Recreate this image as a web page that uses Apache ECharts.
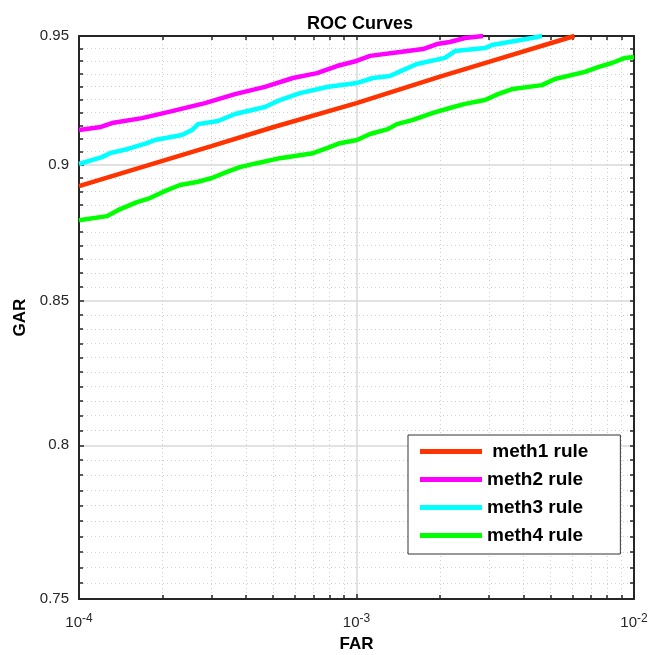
<!DOCTYPE html>
<html><head><meta charset="utf-8">
<script src="https://cdn.jsdelivr.net/npm/echarts@6/dist/echarts.min.js"></script>
<style>html,body{margin:0;padding:0;background:#fff}#c{width:661px;height:655px}</style>
</head><body><div id="c"></div>
<script>
const seriesNames = [' meth1 rule', 'meth2 rule', 'meth3 rule', 'meth4 rule'];
const colors = ['#ff3300', '#ff00ff', '#00ffff', '#00ff00'];

const far1 = [1e-4, 2e-4, 3e-4, 5e-4, 1e-3, 2e-3, 3e-3, 6.1e-3];
const gar1 = [0.892, 0.9015, 0.9071, 0.9143, 0.9236, 0.9339, 0.9397, 0.95];

const far2 = [1e-4, 1.2e-4, 1.315e-4, 1.687e-4, 2.164e-4, 2.845e-4, 3.65e-4, 4.68e-4, 5.9e-4, 7.21e-4, 8.5e-4, 1.0e-3, 1.119e-3, 1.435e-3, 1.736e-3, 1.95e-3, 2.17e-3, 2.46e-3, 2.86e-3];
const gar2 = [0.9132, 0.9144, 0.9159, 0.9178, 0.9205, 0.9236, 0.9271, 0.9299, 0.9334, 0.9353, 0.9381, 0.9401, 0.9421, 0.9436, 0.9448, 0.9468, 0.9476, 0.9492, 0.95];

const far3 = [1e-4, 1.21e-4, 1.293e-4, 1.501e-4, 1.758e-4, 1.878e-4, 2.35e-4, 2.554e-4, 2.685e-4, 3.17e-4, 3.65e-4, 4.68e-4, 5.3e-4, 6.26e-4, 7.83e-4, 1.0e-3, 1.147e-3, 1.32e-3, 1.471e-3, 1.652e-3, 2.084e-3, 2.265e-3, 2.905e-3, 3.078e-3, 4.29e-3, 4.66e-3];
const gar3 = [0.9003, 0.9029, 0.9044, 0.9060, 0.9082, 0.9094, 0.9113, 0.9132, 0.9155, 0.9167, 0.9194, 0.9221, 0.9248, 0.9275, 0.9299, 0.9314, 0.9334, 0.9342, 0.9365, 0.9389, 0.9413, 0.9440, 0.9452, 0.9464, 0.9492, 0.95];

const far4 = [1e-4, 1.262e-4, 1.382e-4, 1.618e-4, 1.803e-4, 2.007e-4, 2.312e-4, 2.662e-4, 3.015e-4, 3.415e-4, 3.8e-4, 4.38e-4, 5.3e-4, 6.97e-4, 7.83e-4, 8.72e-4, 1.004e-3, 1.119e-3, 1.298e-3, 1.399e-3, 1.598e-3, 1.887e-3, 2.17e-3, 2.46e-3, 2.905e-3, 3.236e-3, 3.66e-3, 4.66e-3, 5.19e-3, 6.66e-3, 7.42e-3, 8.33e-3, 9.28e-3, 1e-2];
const gar4 = [0.8793, 0.8808, 0.8830, 0.8860, 0.8875, 0.8898, 0.8924, 0.8935, 0.8950, 0.8973, 0.8991, 0.9006, 0.9025, 0.9044, 0.9063, 0.9082, 0.9094, 0.9117, 0.9136, 0.9155, 0.9171, 0.9198, 0.9217, 0.9233, 0.9248, 0.9271, 0.9291, 0.9306, 0.9330, 0.9358, 0.9377, 0.9393, 0.9413, 0.9417];

const xMajorTicks = [0.0001, 0.001, 0.01];
const xMinorTicks = [0.0002, 0.0003, 0.0004, 0.0005, 0.0006, 0.0007, 0.0008, 0.0009,
                     0.002, 0.003, 0.004, 0.005, 0.006, 0.007, 0.008, 0.009];
const yMajorTicks = [0.75, 0.8, 0.85, 0.9, 0.95];
const yMinorTicks = [0.755, 0.76, 0.765, 0.77, 0.775, 0.78, 0.785, 0.79, 0.795,
                     0.805, 0.81, 0.815, 0.82, 0.825, 0.83, 0.835, 0.84, 0.845,
                     0.855, 0.86, 0.865, 0.87, 0.875, 0.88, 0.885, 0.89, 0.895,
                     0.905, 0.91, 0.915, 0.92, 0.925, 0.93, 0.935, 0.94, 0.945];

const FONT = '"Liberation Sans", Arial, sans-serif';
const AXC = '#262626';
const MAJ = { color: '#d9d9d9', width: 1.5 };
const MIN = { color: '#cfcfcf', width: 1, type: [1, 3] };

const pairs = (x, y) => x.map((v, i) => [v, y[i]]);
const farAll = [far1, far2, far3, far4];
const garAll = [gar1, gar2, gar3, gar4];

const xBase = { type: 'log', logBase: 10, min: 1e-4, max: 1e-2, gridIndex: 0 };
const yBase = { type: 'log', logBase: 10, min: 0.75, max: 0.95, gridIndex: 0 };

const chart = echarts.init(document.getElementById('c'), null, { renderer: 'canvas' });
chart.setOption({
  animation: false,
  backgroundColor: '#fff',
  title: {
    text: 'ROC Curves', left: 355, top: 10, textAlign: 'center',
    textStyle: { fontFamily: FONT, fontSize: 18, fontWeight: 'bold', color: '#000' }
  },
  grid: { left: 79, right: 27, top: 36, bottom: 56, containLabel: false, outerBoundsMode: 'none' },
  legend: {
    orient: 'vertical', left: 408, top: 435, padding: [7, 32, 9, 12],
    itemWidth: 62, itemHeight: 5, itemGap: 9, icon: 'rect',
    borderColor: '#333', borderWidth: 1, backgroundColor: '#fff',
    textStyle: { fontFamily: FONT, fontSize: 19, fontWeight: 'bold', color: '#000' },
    data: seriesNames
  },
  xAxis: [
    Object.assign({}, xBase, {
      position: 'bottom',
      name: 'FAR', nameLocation: 'middle', nameGap: 37,
      nameTextStyle: { fontFamily: FONT, fontSize: 17, fontWeight: 'bold', color: '#000' },
      axisLine: { show: true, onZero: false, lineStyle: { color: AXC, width: 2 } },
      axisTick: { show: true, inside: true, length: 5, customValues: xMajorTicks, lineStyle: { color: AXC, width: 1.5 } },
      axisLabel: {
        customValues: xMajorTicks, margin: 14, color: AXC,
        formatter: v => '{b|10}{s|' + Math.round(Math.log10(v)) + '}',
        rich: {
          b: { fontFamily: FONT, fontSize: 15, color: AXC, lineHeight: 20 },
          s: { fontFamily: FONT, fontSize: 12, color: AXC, lineHeight: 12, verticalAlign: 'top' }
        }
      },
      splitLine: { show: true, lineStyle: MAJ }
    }),
    Object.assign({}, xBase, {
      position: 'bottom',
      axisLine: { show: false, onZero: false },
      axisTick: { show: true, inside: true, length: 4, customValues: xMinorTicks, lineStyle: { color: AXC, width: 1.5 } },
      axisLabel: { show: false },
      splitLine: { show: true, lineStyle: MIN }
    }),
    Object.assign({}, xBase, {
      position: 'top',
      axisLine: { show: true, onZero: false, lineStyle: { color: AXC, width: 2 } },
      axisTick: { show: true, inside: true, length: 4, customValues: xMajorTicks.concat(xMinorTicks), lineStyle: { color: AXC, width: 1.5 } },
      axisLabel: { show: false },
      splitLine: { show: false }
    })
  ],
  yAxis: [
    Object.assign({}, yBase, {
      position: 'left',
      name: 'GAR', nameLocation: 'middle', nameGap: 41, nameRotate: 90,
      nameTextStyle: { fontFamily: FONT, fontSize: 17, fontWeight: 'bold', color: '#000' },
      axisLine: { show: true, onZero: false, lineStyle: { color: AXC, width: 2 } },
      axisTick: { show: true, inside: true, length: 5, customValues: yMajorTicks, lineStyle: { color: AXC, width: 1.5 } },
      axisLabel: {
        customValues: yMajorTicks, margin: 10, color: AXC, fontFamily: FONT, fontSize: 15,
        formatter: v => String(Math.round(v * 100) / 100)
      },
      splitLine: { show: true, lineStyle: MAJ }
    }),
    Object.assign({}, yBase, {
      position: 'left',
      axisLine: { show: false, onZero: false },
      axisTick: { show: true, inside: true, length: 4, customValues: yMinorTicks, lineStyle: { color: AXC, width: 1.5 } },
      axisLabel: { show: false },
      splitLine: { show: true, lineStyle: MIN }
    }),
    Object.assign({}, yBase, {
      position: 'right',
      axisLine: { show: true, onZero: false, lineStyle: { color: AXC, width: 2 } },
      axisTick: { show: true, inside: true, length: 4, customValues: yMajorTicks.concat(yMinorTicks), lineStyle: { color: AXC, width: 1.5 } },
      axisLabel: { show: false },
      splitLine: { show: false }
    })
  ],
  series: seriesNames.map((name, i) => ({
    name: name, type: 'line', xAxisIndex: 0, yAxisIndex: 0,
    showSymbol: false, symbol: 'none', clip: true,
    color: colors[i],
    itemStyle: { color: colors[i] },
    lineStyle: { color: colors[i], width: 4.5 },
    data: pairs(farAll[i], garAll[i])
  }))
});
</script></body></html>
